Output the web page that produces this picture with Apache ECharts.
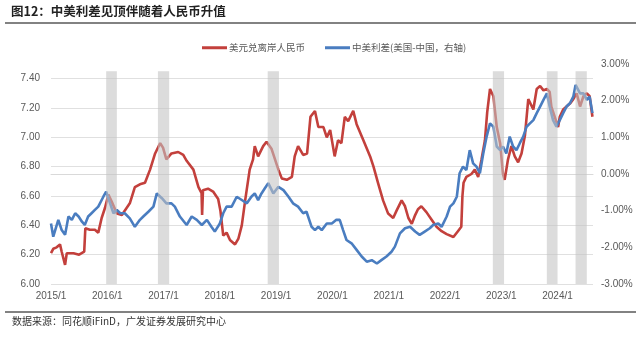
<!DOCTYPE html>
<html><head><meta charset="utf-8">
<script src="https://cdn.jsdelivr.net/npm/echarts@6/dist/echarts.min.js"></script>
<style>html,body{margin:0;padding:0;background:#fff}#c{width:640px;height:338px}</style>
</head><body><div id="c"></div>
<script>
// time in decimal years
const usdDates = [
2015.00,2015.04,2015.10,2015.16,2015.19,2015.25,2015.28,2015.40,2015.50,2015.59,2015.61,2015.69,2015.78,2015.84,2015.90,2015.96,
2016.02,2016.08,2016.17,2016.26,2016.31,2016.40,2016.49,2016.58,2016.67,2016.76,2016.85,2016.94,2016.99,
2017.05,2017.14,2017.26,2017.35,2017.41,2017.53,2017.62,2017.675,2017.685,2017.70,2017.79,2017.88,2017.97,
2018.01,2018.06,2018.12,2018.18,2018.27,2018.33,2018.39,2018.45,2018.53,2018.59,2018.62,2018.68,2018.77,2018.83,2018.92,2018.98,
2019.04,2019.10,2019.19,2019.28,2019.33,2019.39,2019.48,2019.55,2019.61,2019.69,2019.75,2019.84,2019.90,2019.96,
2020.04,2020.10,2020.16,2020.22,2020.28,2020.37,2020.43,2020.55,2020.67,2020.73,2020.81,2020.90,2020.99,
2021.08,2021.14,2021.23,2021.29,2021.35,2021.41,2021.47,2021.52,2021.58,2021.67,2021.76,2021.85,2021.94,
2022.03,2022.15,2022.23,2022.29,2022.31,2022.33,2022.38,2022.47,2022.53,2022.59,2022.65,2022.71,2022.75,2022.80,2022.86,2022.92,2022.98,
2023.03,2023.06,2023.12,2023.18,2023.24,2023.30,2023.36,2023.42,2023.48,2023.57,2023.63,2023.69,2023.75,2023.81,2023.86,2023.89,2023.95,
2024.01,2024.04,2024.10,2024.16,2024.22,2024.28,2024.34,2024.40,2024.46,2024.52,2024.57,2024.62];
const usdValues = [
6.21,6.24,6.25,6.27,6.22,6.13,6.21,6.21,6.20,6.22,6.38,6.37,6.37,6.35,6.45,6.52,
6.61,6.56,6.48,6.47,6.50,6.55,6.66,6.68,6.69,6.78,6.89,6.96,6.93,
6.85,6.89,6.90,6.88,6.84,6.78,6.66,6.62,6.47,6.64,6.65,6.63,6.58,
6.50,6.33,6.35,6.30,6.27,6.31,6.40,6.57,6.78,6.85,6.94,6.87,6.94,6.97,6.92,6.85,
6.78,6.72,6.71,6.73,6.87,6.94,6.88,6.89,7.14,7.18,7.07,7.07,7.00,7.05,
6.87,6.98,6.96,7.14,7.11,7.18,7.09,6.98,6.87,6.80,6.69,6.57,6.48,
6.45,6.50,6.57,6.53,6.45,6.41,6.47,6.51,6.53,6.49,6.44,6.39,6.36,
6.34,6.32,6.36,6.39,6.60,6.69,6.73,6.75,6.78,6.73,6.85,6.98,7.17,7.33,7.28,7.07,6.96,
6.75,6.71,6.85,6.94,6.87,6.83,6.89,7.01,7.26,7.19,7.33,7.35,7.32,7.33,7.31,7.21,7.14,
7.07,7.14,7.19,7.21,7.23,7.26,7.30,7.21,7.28,7.30,7.28,7.14];

const spreadDates = [
2015.00,2015.04,2015.07,2015.13,2015.19,2015.25,2015.31,2015.37,2015.43,2015.49,2015.55,2015.60,2015.66,2015.72,2015.78,2015.84,2015.93,2015.98,
2016.05,2016.11,2016.17,2016.23,2016.31,2016.40,2016.49,2016.58,2016.64,2016.73,2016.82,2016.88,2016.91,2016.97,
2017.05,2017.14,2017.20,2017.29,2017.41,2017.50,2017.59,2017.68,2017.77,2017.85,2017.91,
2018.00,2018.06,2018.12,2018.21,2018.30,2018.39,2018.48,2018.56,2018.62,2018.68,2018.74,2018.80,2018.86,2018.95,
2019.04,2019.13,2019.22,2019.30,2019.39,2019.48,2019.54,2019.63,2019.69,2019.75,2019.81,2019.90,2019.99,
2020.07,2020.13,2020.19,2020.25,2020.34,2020.43,2020.52,2020.61,2020.70,2020.79,2020.87,2020.96,
2021.05,2021.11,2021.20,2021.29,2021.38,2021.47,2021.55,2021.64,2021.73,2021.79,2021.88,2021.94,
2022.03,2022.09,2022.15,2022.21,2022.26,2022.32,2022.38,2022.44,2022.50,2022.56,2022.62,2022.68,2022.74,2022.80,2022.86,2022.92,2022.98,
2023.03,2023.09,2023.15,2023.21,2023.27,2023.33,2023.39,2023.45,2023.51,2023.57,2023.63,2023.69,2023.75,2023.81,2023.86,2023.92,2023.98,
2024.04,2024.10,2024.16,2024.22,2024.28,2024.32,2024.40,2024.46,2024.52,2024.57,2024.62];
const spreadValues = [
-1.35,-1.71,-1.71,-1.25,-1.53,-1.66,-1.16,-1.25,-1.07,-1.16,-1.30,-1.39,-1.16,-1.07,-0.98,-0.89,-0.62,-0.48,
-0.80,-1.07,-0.98,-1.07,-1.07,-1.21,-1.44,-1.25,-1.16,-1.03,-0.89,-0.53,-0.48,-0.66,
-0.80,-0.80,-0.89,-1.16,-1.39,-1.16,-1.25,-1.39,-1.25,-1.44,-1.57,
-1.35,-1.07,-0.89,-0.89,-0.62,-0.71,-0.80,-0.62,-0.53,-0.71,-0.53,-0.39,-0.25,-0.53,
-0.35,-0.44,-0.62,-0.80,-0.89,-1.07,-1.03,-1.44,-1.53,-1.44,-1.53,-1.35,-1.35,
-1.25,-1.25,-1.53,-1.80,-1.89,-2.07,-2.25,-2.39,-2.35,-2.44,-2.35,-2.25,
-2.12,-1.98,-1.62,-1.48,-1.44,-1.57,-1.66,-1.57,-1.48,-1.39,-1.35,-1.44,
-1.16,-0.89,-0.80,-0.62,0.02,0.20,0.11,0.65,0.29,0.20,0.02,0.56,1.02,1.38,1.29,0.75,0.65,
0.75,0.56,1.02,0.75,0.65,0.84,1.02,1.29,1.38,1.47,1.66,1.84,2.02,2.20,1.84,1.47,1.29,
1.47,1.66,1.84,1.93,2.11,2.43,2.20,2.20,2.02,2.11,1.66];

const shadeStart = [2015.98, 2016.90, 2018.85, 2022.85, 2023.81, 2024.32];
const shadeEnd   = [2016.17, 2017.10, 2019.05, 2023.05, 2024.00, 2024.52];

const titleText = '图12：中美利差见顶伴随着人民币升值';
const sourceText = '数据来源：同花顺iFinD，广发证券发展研究中心';
const legendNames = ['美元兑离岸人民币', '中美利差(美国-中国，右轴)'];

const zip = (a, b) => a.map((t, i) => [t, b[i]]);
const shadeData = shadeStart.map((s, i) => [s, shadeEnd[i]]);

const chart = echarts.init(document.getElementById('c'), null, {renderer: 'canvas'});
const axisFont = {fontFamily: 'Liberation Sans, Arial, sans-serif', fontSize: 10, color: '#595959'};
chart.setOption({
  animation: false,
  backgroundColor: '#fff',
  grid: {left: 51, right: 47, top: 64, bottom: 54},
  legend: {
    left: 197, top: 38, itemWidth: 25, itemHeight: 3, itemGap: 20, icon: 'rect',
    textStyle: {fontFamily: 'Noto Sans CJK SC', fontSize: 9.5, color: '#595959', padding: [0, 0, 0, -3]},
    data: legendNames
  },
  xAxis: {
    type: 'value', min: 2015, max: 2024.63, interval: 1,
    axisLine: {show: true, lineStyle: {color: '#d9d9d9', width: 1}},
    axisTick: {show: false},
    splitLine: {show: false},
    axisLabel: Object.assign({}, axisFont, {margin: 7, showMaxLabel: false, formatter: v => Math.round(v) + '/1'})
  },
  yAxis: [{
    type: 'value', min: 6, max: 7.5, interval: 0.2, position: 'left',
    axisLine: {show: false}, axisTick: {show: false},
    splitLine: {show: true, showMaxLine: false, lineStyle: {color: '#e0e0e0', width: 1}},
    axisLabel: Object.assign({}, axisFont, {margin: 11, showMaxLabel: false, formatter: v => v.toFixed(2)})
  }, {
    type: 'value', min: -3, max: 3, interval: 1, position: 'right',
    axisLine: {show: false}, axisTick: {show: false}, splitLine: {show: false},
    axisLabel: Object.assign({}, axisFont, {margin: 8, formatter: v => v.toFixed(2) + '%'})
  }],
  series: [{
    name: legendNames[0], type: 'line', yAxisIndex: 0, data: zip(usdDates, usdValues),
    showSymbol: false, symbol: 'none', color: '#c3403c', lineStyle: {width: 2.6, color: '#c3403c'}, z: 2
  }, {
    name: legendNames[1], type: 'line', yAxisIndex: 1, data: zip(spreadDates, spreadValues),
    showSymbol: false, symbol: 'none', color: '#4a7dc0', lineStyle: {width: 2.6, color: '#4a7dc0'}, z: 3
  }, {
    type: 'custom', yAxisIndex: 0, z: 5, silent: true, data: shadeData,
    renderItem: (params, api) => {
      const p1 = api.coord([api.value(0), 7.45]);
      const p2 = api.coord([api.value(1), 6]);
      return {type: 'rect', shape: {x: p1[0], y: p1[1], width: p2[0] - p1[0], height: p2[1] - p1[1]},
        style: {fill: 'rgba(195,195,195,0.58)'}};
    }
  }],
  graphic: [
    {type: 'text', left: 11, top: 5, style: {text: titleText, font: 'bold 12.5px "Noto Sans CJK SC"', fill: '#222'}},
    {type: 'line', shape: {x1: 5, y1: 23, x2: 636, y2: 23}, style: {stroke: '#595959', lineWidth: 1.5}},
    {type: 'line', shape: {x1: 5, y1: 312, x2: 636, y2: 312}, style: {stroke: '#595959', lineWidth: 1.5}},
    {type: 'text', left: 12, top: 316, style: {text: sourceText, font: '10px "Noto Sans CJK SC"', fill: '#333'}}
  ]
});
</script></body></html>
